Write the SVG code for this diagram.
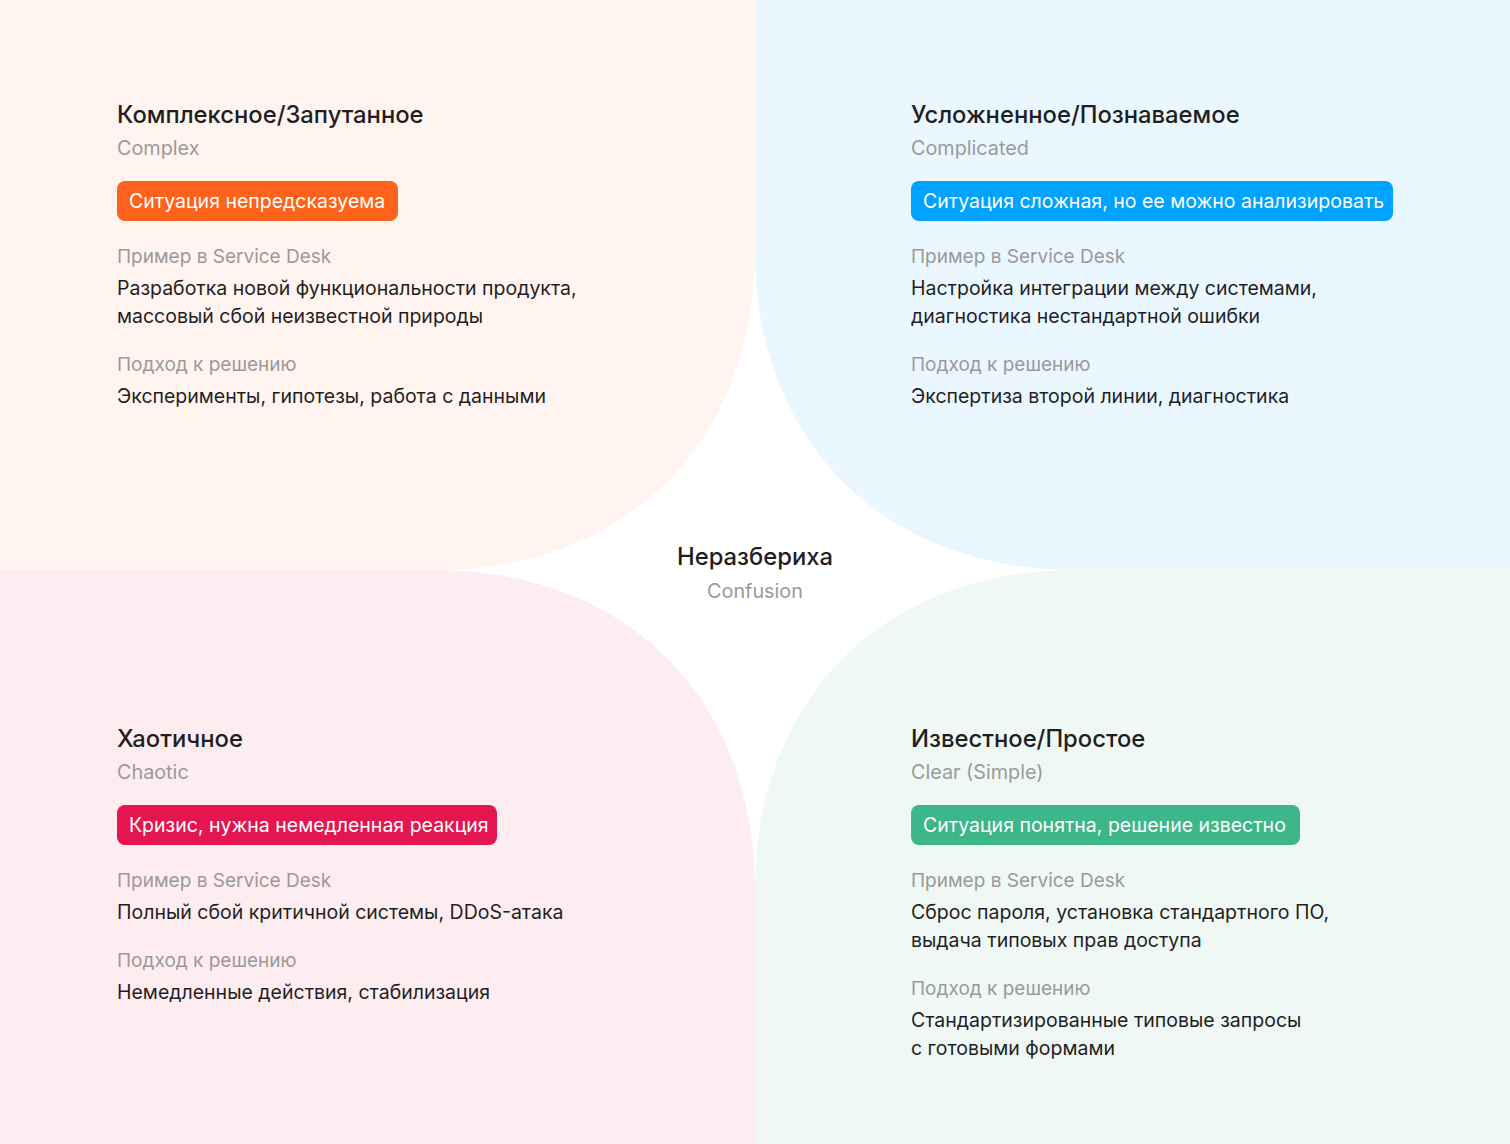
<svg xmlns="http://www.w3.org/2000/svg" width="1510" height="1144" viewBox="0 0 1510 1144">
<style>
.t{font-family:Inter,"Noto Sans",sans-serif;}
.title{font-size:23.8px;font-weight:500;fill:#1f1f1f;}
.sub{font-size:19.8px;font-weight:400;fill:#9a9a9a;}
.lbl{font-size:19px;font-weight:400;fill:#9a9a9a;}
.body{font-size:19.5px;font-weight:400;fill:#1f1f1f;}
.badge{font-size:19.5px;font-weight:400;fill:#ffffff;}
</style>
<rect width="1510" height="1144" fill="#ffffff"/>
<g id="complex">
<path d="M0,0 H755 V250 C755,442 627,570 435,570 H0 Z" fill="#fff4ef"/>
<g class="t">
<text x="117" y="123" class="title">Комплексное/Запутанное</text>
<text x="117" y="155" class="sub">Complex</text>
<rect x="117" y="181" width="281" height="40" rx="8" fill="#ff621a"/>
<text x="129" y="208" class="badge">Ситуация непредсказуема</text>
<text x="117" y="263" class="lbl">Пример в Service Desk</text>
<text x="117" y="295" class="body">Разработка новой функциональности продукта,</text>
<text x="117" y="323" class="body">массовый сбой неизвестной природы</text>
<text x="117" y="371" class="lbl">Подход к решению</text>
<text x="117" y="403" class="body">Эксперименты, гипотезы, работа с данными</text>
</g>
</g>
<g id="complicated">
<path d="M755,0 H1510 V570 H1075 C883,570 755,442 755,250 Z" fill="#eaf7ff"/>
<g class="t">
<text x="911" y="123" class="title">Усложненное/Познаваемое</text>
<text x="911" y="155" class="sub">Complicated</text>
<rect x="911" y="181" width="482" height="40" rx="8" fill="#00a3ff"/>
<text x="923" y="208" class="badge">Ситуация сложная, но ее можно анализировать</text>
<text x="911" y="263" class="lbl">Пример в Service Desk</text>
<text x="911" y="295" class="body">Настройка интеграции между системами,</text>
<text x="911" y="323" class="body">диагностика нестандартной ошибки</text>
<text x="911" y="371" class="lbl">Подход к решению</text>
<text x="911" y="403" class="body">Экспертиза второй линии, диагностика</text>
</g>
</g>
<g id="chaotic">
<path d="M0,570 H435 C627,570 755,698 755,890 V1144 H0 Z" fill="#fdedf1"/>
<g class="t">
<text x="117" y="747" class="title">Хаотичное</text>
<text x="117" y="779" class="sub">Chaotic</text>
<rect x="117" y="805" width="380" height="40" rx="8" fill="#e5154f"/>
<text x="129" y="832" class="badge">Кризис, нужна немедленная реакция</text>
<text x="117" y="887" class="lbl">Пример в Service Desk</text>
<text x="117" y="919" class="body">Полный сбой критичной системы, DDoS-атака</text>
<text x="117" y="967" class="lbl">Подход к решению</text>
<text x="117" y="999" class="body">Немедленные действия, стабилизация</text>
</g>
</g>
<g id="clear">
<path d="M1510,570 V1144 H755 V890 C755,698 883,570 1075,570 Z" fill="#eff8f4"/>
<g class="t">
<text x="911" y="747" class="title">Известное/Простое</text>
<text x="911" y="779" class="sub">Clear (Simple)</text>
<rect x="911" y="805" width="389" height="40" rx="8" fill="#3db68a"/>
<text x="923" y="832" class="badge">Ситуация понятна, решение известно</text>
<text x="911" y="887" class="lbl">Пример в Service Desk</text>
<text x="911" y="919" class="body">Сброс пароля, установка стандартного ПО,</text>
<text x="911" y="947" class="body">выдача типовых прав доступа</text>
<text x="911" y="995" class="lbl">Подход к решению</text>
<text x="911" y="1027" class="body">Стандартизированные типовые запросы</text>
<text x="911" y="1055" class="body">с готовыми формами</text>
</g>
</g>
<g id="confusion" class="t">
<text x="755" y="565" class="title" text-anchor="middle">Неразбериха</text>
<text x="755" y="598" class="sub" text-anchor="middle">Confusion</text>
</g>
<g id="connectors"/>
</svg>
